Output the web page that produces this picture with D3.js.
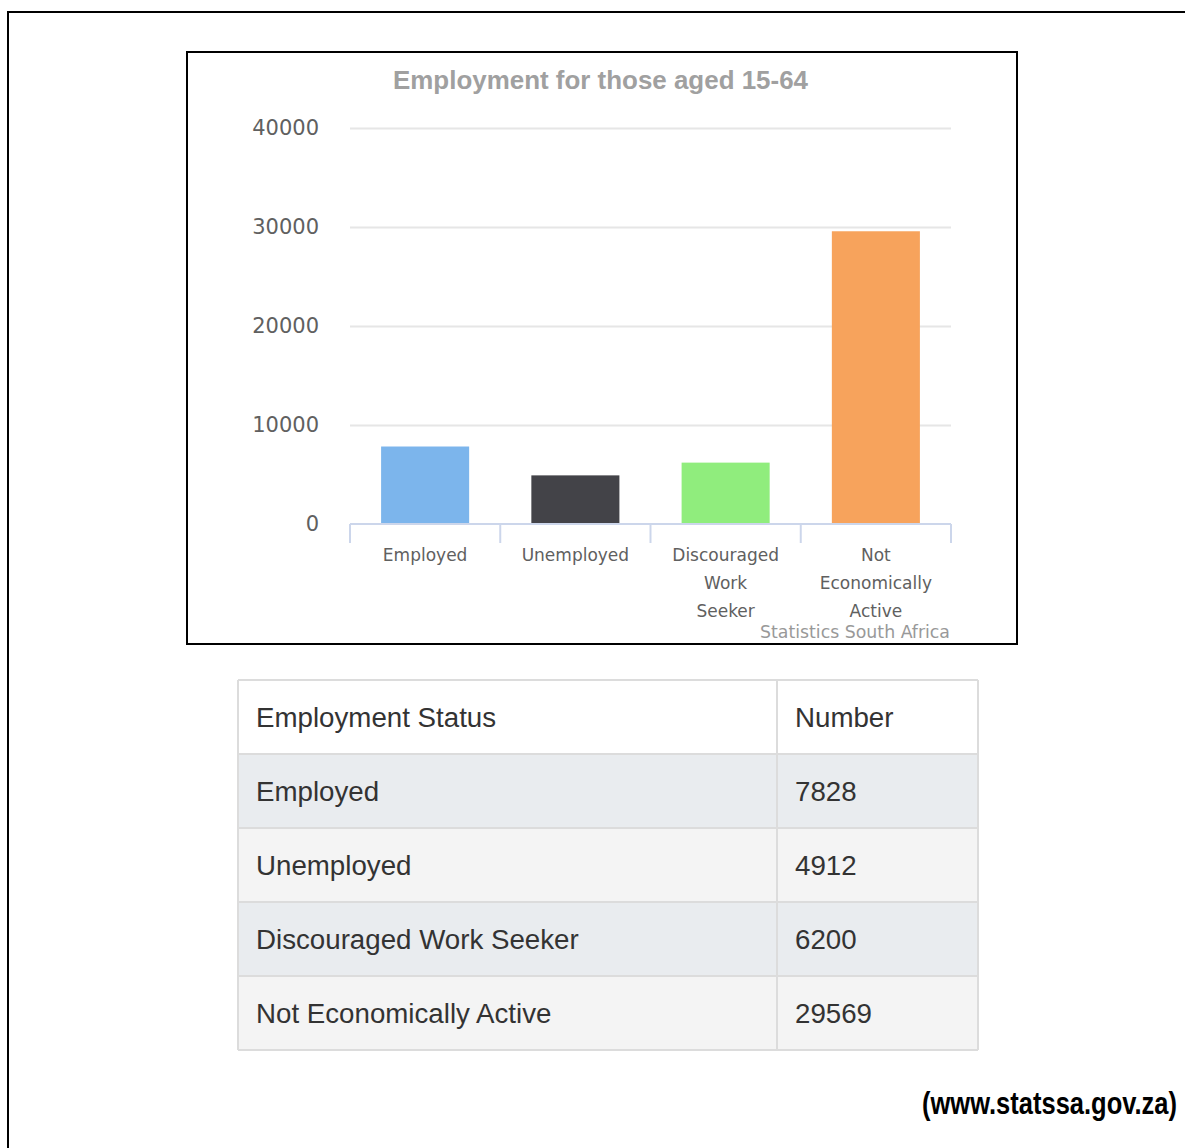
<!DOCTYPE html>
<html>
<head>
<meta charset="utf-8">
<script src="https://cdn.jsdelivr.net/npm/d3@7"></script>
<style>
  html, body { margin: 0; padding: 0; background: #fff; }
  svg { display: block; }
</style>
</head>
<body>
<svg id="chart" width="1185" height="1148"></svg>
<script>
// ---- Data ----
const categories = ["Employed", "Unemployed", "Discouraged Work Seeker", "Not Economically Active"];
const values = [7828, 4912, 6200, 29569];
const barColors = ["#7cb5ec", "#434348", "#90ed7d", "#f7a35c"];
const yTicks = [0, 10000, 20000, 30000, 40000];
const chartTitle = "Employment for those aged 15-64";
const creditText = "Statistics South Africa";
const tableHeaders = ["Employment Status", "Number"];
const sourceText = "(www.statssa.gov.za)";

const svg = d3.select("#chart");

// Outer frame (right/bottom edges fall outside the window)
svg.append("rect")
  .attr("x", 8).attr("y", 12).attr("width", 1200).attr("height", 1200)
  .attr("fill", "none").attr("stroke", "#000").attr("stroke-width", 2);

// Chart box
svg.append("rect")
  .attr("x", 187).attr("y", 52).attr("width", 830).attr("height", 592)
  .attr("fill", "#fff").attr("stroke", "#000").attr("stroke-width", 2);

// Scales
const plotLeft = 350, plotRight = 951, plotTop = 128, plotBottom = 524;
const x = d3.scaleBand().domain(categories).range([plotLeft, plotRight]).padding(0);
const y = d3.scaleLinear().domain([0, 40000]).range([plotBottom, plotTop]);
const barW = x.bandwidth() * 0.586;

// Title
svg.append("text")
  .attr("x", 600.5).attr("y", 89)
  .attr("text-anchor", "middle")
  .attr("font-family", "Liberation Sans, Arial, sans-serif")
  .attr("font-weight", "bold")
  .attr("font-size", 26)
  .attr("textLength", 415).attr("lengthAdjust", "spacingAndGlyphs")
  .attr("fill", "#a0a0a0")
  .text(chartTitle);

// Gridlines
const grid = svg.append("g")
  .attr("transform", `translate(${plotLeft},0)`)
  .call(d3.axisLeft(y).tickValues(yTicks.filter(d => d !== 0)).tickSize(-(plotRight - plotLeft)).tickFormat(""));
grid.select(".domain").remove();
grid.selectAll("line").attr("stroke", "#e6e6e6").attr("stroke-width", 2);

// Y axis labels
const yAxis = svg.append("g")
  .attr("transform", `translate(${plotLeft},0)`)
  .call(d3.axisLeft(y).tickValues(yTicks).tickSize(0).tickPadding(31).tickFormat(d3.format("d")));
yAxis.select(".domain").remove();
yAxis.selectAll("text")
  .attr("font-family", "DejaVu Sans, Verdana, sans-serif")
  .attr("font-size", 21)
  .attr("fill", "#606060");

// Bars
svg.append("g").selectAll("rect")
  .data(categories)
  .join("rect")
  .attr("x", d => x(d) + (x.bandwidth() - barW) / 2)
  .attr("y", (d, i) => y(values[i]))
  .attr("width", barW)
  .attr("height", (d, i) => y(0) - y(values[i]))
  .attr("fill", (d, i) => barColors[i]);

// X axis line
svg.append("line")
  .attr("x1", plotLeft).attr("x2", plotRight)
  .attr("y1", y(0)).attr("y2", y(0))
  .attr("stroke", "#ccd6eb").attr("stroke-width", 2);

// X axis ticks at band edges
const edges = categories.map(c => x(c)).concat([x.range()[1]]);
svg.append("g").selectAll("line")
  .data(edges)
  .join("line")
  .attr("x1", d => d).attr("x2", d => d)
  .attr("y1", y(0)).attr("y2", y(0) + 19)
  .attr("stroke", "#ccd6eb").attr("stroke-width", 2);

// Category labels (one word per line)
const catLabels = svg.append("g");
categories.forEach(c => {
  const words = c.split(" ");
  const t = catLabels.append("text")
    .attr("text-anchor", "middle")
    .attr("font-family", "DejaVu Sans, Verdana, sans-serif")
    .attr("font-size", 17)
    .attr("fill", "#606060");
  words.forEach((w, j) => {
    t.append("tspan")
      .attr("x", x(c) + x.bandwidth() / 2)
      .attr("y", 561 + j * 28)
      .text(w);
  });
});

// Credit
svg.append("text")
  .attr("x", 950).attr("y", 638)
  .attr("text-anchor", "end")
  .attr("font-family", "DejaVu Sans Condensed, DejaVu Sans, sans-serif")
  .attr("font-size", 18)
  .attr("textLength", 190).attr("lengthAdjust", "spacingAndGlyphs")
  .attr("fill", "#999")
  .text(creditText);

// ---- Table ----
const tLeft = 238, tRight = 978, tTop = 680, tBottom = 1050, tDiv = 777;
const rows = ["__header__"].concat(categories);
const ry = d3.scaleBand().domain(rows).range([tTop, tBottom]);
const rowFill = (i) => i === 0 ? "#ffffff" : (i % 2 === 1 ? "#e9ecef" : "#f4f4f4");

const tbl = svg.append("g");
tbl.selectAll("rect.row")
  .data(rows)
  .join("rect")
  .attr("class", "row")
  .attr("x", tLeft).attr("y", d => ry(d))
  .attr("width", tRight - tLeft).attr("height", ry.bandwidth())
  .attr("fill", (d, i) => rowFill(i));

// Horizontal borders
tbl.selectAll("line.h")
  .data(rows.map(r => ry(r)).concat([tBottom]))
  .join("line")
  .attr("class", "h")
  .attr("x1", tLeft).attr("x2", tRight)
  .attr("y1", d => d).attr("y2", d => d)
  .attr("stroke", "#dcdcdc").attr("stroke-width", 2);
// Vertical borders
tbl.selectAll("line.v")
  .data([tLeft, tDiv, tRight])
  .join("line")
  .attr("class", "v")
  .attr("x1", d => d).attr("x2", d => d)
  .attr("y1", tTop).attr("y2", tBottom)
  .attr("stroke", "#dcdcdc").attr("stroke-width", 2);

const cellFont = "Liberation Sans, Arial, sans-serif";
rows.forEach((r, i) => {
  const cy = ry(r) + ry.bandwidth() / 2 + 10;
  const label = i === 0 ? tableHeaders[0] : r;
  const val = i === 0 ? tableHeaders[1] : String(values[i - 1]);
  tbl.append("text")
    .attr("x", tLeft + 18).attr("y", cy)
    .attr("font-family", cellFont).attr("font-size", 27.7)
    .attr("fill", "#333").text(label);
  tbl.append("text")
    .attr("x", tDiv + 18).attr("y", cy)
    .attr("font-family", cellFont).attr("font-size", 27.7)
    .attr("fill", "#333").text(val);
});

// Source (narrow bold look via vertical stretch)
svg.append("g")
  .attr("transform", "translate(1177,1114) scale(1,1.2)")
  .append("text")
  .attr("x", 0).attr("y", 0)
  .attr("text-anchor", "end")
  .attr("font-family", "Liberation Sans, Arial, sans-serif")
  .attr("font-weight", "bold")
  .attr("font-size", 25.5)
  .attr("fill", "#000")
  .text(sourceText);
</script>
</body>
</html>
